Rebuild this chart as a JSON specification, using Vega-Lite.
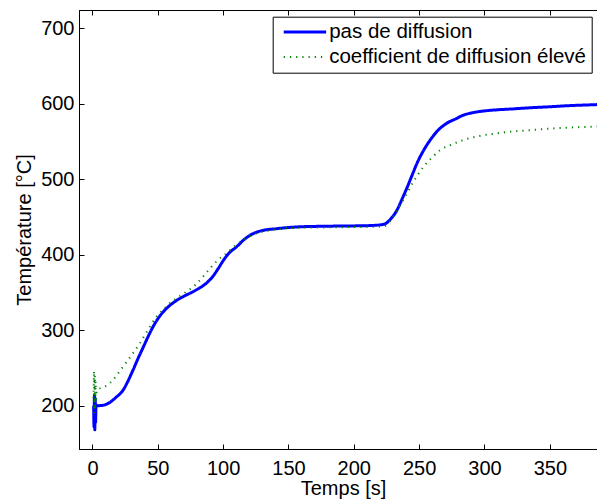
{
  "$schema": "https://vega.github.io/schema/vega-lite/v6.json",
  "autosize": {"type": "none"},
  "padding": {"left": 79, "top": 10, "right": 0, "bottom": 52},
  "width": 518,
  "height": 439,
  "background": "white",
  "config": {
    "font": "Liberation Sans",
    "view": {"stroke": "black", "strokeWidth": 1},
    "axis": {
      "grid": false,
      "domainColor": "black",
      "tickColor": "black",
      "labelColor": "black",
      "titleColor": "black",
      "labelFontSize": 20,
      "titleFontSize": 20,
      "titleFontWeight": "normal",
      "labelFont": "Liberation Sans",
      "titleFont": "Liberation Sans"
    }
  },
  "data": {
    "values": [
      {"t": 0.9, "T": 200, "s": "pas de diffusion"},
      {"t": 1.2, "T": 172, "s": "pas de diffusion"},
      {"t": 1.5, "T": 214, "s": "pas de diffusion"},
      {"t": 1.8, "T": 168, "s": "pas de diffusion"},
      {"t": 2.1, "T": 210, "s": "pas de diffusion"},
      {"t": 2.4, "T": 178, "s": "pas de diffusion"},
      {"t": 2.7, "T": 201, "s": "pas de diffusion"},
      {"t": 4, "T": 200, "s": "pas de diffusion"},
      {"t": 8, "T": 200.5, "s": "pas de diffusion"},
      {"t": 13, "T": 204, "s": "pas de diffusion"},
      {"t": 18, "T": 211, "s": "pas de diffusion"},
      {"t": 23.6, "T": 221, "s": "pas de diffusion"},
      {"t": 27, "T": 232, "s": "pas de diffusion"},
      {"t": 31, "T": 247, "s": "pas de diffusion"},
      {"t": 35, "T": 263, "s": "pas de diffusion"},
      {"t": 39, "T": 278, "s": "pas de diffusion"},
      {"t": 43, "T": 293, "s": "pas de diffusion"},
      {"t": 46.5, "T": 305, "s": "pas de diffusion"},
      {"t": 50, "T": 315, "s": "pas de diffusion"},
      {"t": 54, "T": 324, "s": "pas de diffusion"},
      {"t": 58, "T": 331, "s": "pas de diffusion"},
      {"t": 64, "T": 339, "s": "pas de diffusion"},
      {"t": 70, "T": 345, "s": "pas de diffusion"},
      {"t": 77, "T": 351, "s": "pas de diffusion"},
      {"t": 82, "T": 356, "s": "pas de diffusion"},
      {"t": 87, "T": 362, "s": "pas de diffusion"},
      {"t": 92, "T": 371, "s": "pas de diffusion"},
      {"t": 96, "T": 381, "s": "pas de diffusion"},
      {"t": 100, "T": 392, "s": "pas de diffusion"},
      {"t": 105, "T": 403, "s": "pas de diffusion"},
      {"t": 110, "T": 410, "s": "pas de diffusion"},
      {"t": 116, "T": 420, "s": "pas de diffusion"},
      {"t": 123, "T": 428, "s": "pas de diffusion"},
      {"t": 130, "T": 432, "s": "pas de diffusion"},
      {"t": 141, "T": 434.5, "s": "pas de diffusion"},
      {"t": 150, "T": 436, "s": "pas de diffusion"},
      {"t": 159, "T": 437, "s": "pas de diffusion"},
      {"t": 170, "T": 437.5, "s": "pas de diffusion"},
      {"t": 190, "T": 438, "s": "pas de diffusion"},
      {"t": 210, "T": 438.5, "s": "pas de diffusion"},
      {"t": 220, "T": 439.5, "s": "pas de diffusion"},
      {"t": 224, "T": 441, "s": "pas de diffusion"},
      {"t": 228, "T": 447, "s": "pas de diffusion"},
      {"t": 233, "T": 459, "s": "pas de diffusion"},
      {"t": 237, "T": 474, "s": "pas de diffusion"},
      {"t": 241, "T": 490, "s": "pas de diffusion"},
      {"t": 245, "T": 507, "s": "pas de diffusion"},
      {"t": 248.3, "T": 521, "s": "pas de diffusion"},
      {"t": 253, "T": 537, "s": "pas de diffusion"},
      {"t": 258.5, "T": 552, "s": "pas de diffusion"},
      {"t": 264, "T": 564, "s": "pas de diffusion"},
      {"t": 271, "T": 574, "s": "pas de diffusion"},
      {"t": 278, "T": 580, "s": "pas de diffusion"},
      {"t": 284, "T": 585, "s": "pas de diffusion"},
      {"t": 292, "T": 588.5, "s": "pas de diffusion"},
      {"t": 300, "T": 590.5, "s": "pas de diffusion"},
      {"t": 310, "T": 592, "s": "pas de diffusion"},
      {"t": 320, "T": 593, "s": "pas de diffusion"},
      {"t": 335, "T": 594.7, "s": "pas de diffusion"},
      {"t": 350, "T": 596, "s": "pas de diffusion"},
      {"t": 365, "T": 597.5, "s": "pas de diffusion"},
      {"t": 380, "T": 598.5, "s": "pas de diffusion"},
      {"t": 388, "T": 599, "s": "pas de diffusion"},
      {"t": 0.9, "T": 210, "s": "coefficient de diffusion élevé"},
      {"t": 1.2, "T": 246, "s": "coefficient de diffusion élevé"},
      {"t": 1.5, "T": 190, "s": "coefficient de diffusion élevé"},
      {"t": 1.8, "T": 240, "s": "coefficient de diffusion élevé"},
      {"t": 2.1, "T": 195, "s": "coefficient de diffusion élevé"},
      {"t": 2.4, "T": 232, "s": "coefficient de diffusion élevé"},
      {"t": 2.7, "T": 205, "s": "coefficient de diffusion élevé"},
      {"t": 3.2, "T": 221, "s": "coefficient de diffusion élevé"},
      {"t": 8, "T": 224, "s": "coefficient de diffusion élevé"},
      {"t": 13.4, "T": 230, "s": "coefficient de diffusion élevé"},
      {"t": 18, "T": 239, "s": "coefficient de diffusion élevé"},
      {"t": 23.6, "T": 252, "s": "coefficient de diffusion élevé"},
      {"t": 30, "T": 267, "s": "coefficient de diffusion élevé"},
      {"t": 36.4, "T": 283, "s": "coefficient de diffusion élevé"},
      {"t": 42, "T": 299, "s": "coefficient de diffusion élevé"},
      {"t": 49, "T": 318, "s": "coefficient de diffusion élevé"},
      {"t": 54, "T": 327, "s": "coefficient de diffusion élevé"},
      {"t": 59.3, "T": 336, "s": "coefficient de diffusion élevé"},
      {"t": 65, "T": 343, "s": "coefficient de diffusion élevé"},
      {"t": 72, "T": 351, "s": "coefficient de diffusion élevé"},
      {"t": 80, "T": 362, "s": "coefficient de diffusion élevé"},
      {"t": 90, "T": 382, "s": "coefficient de diffusion élevé"},
      {"t": 96, "T": 393, "s": "coefficient de diffusion élevé"},
      {"t": 102.7, "T": 402, "s": "coefficient de diffusion élevé"},
      {"t": 110, "T": 413, "s": "coefficient de diffusion élevé"},
      {"t": 117, "T": 421, "s": "coefficient de diffusion élevé"},
      {"t": 125, "T": 428, "s": "coefficient de diffusion élevé"},
      {"t": 135, "T": 432, "s": "coefficient de diffusion élevé"},
      {"t": 145, "T": 434.5, "s": "coefficient de diffusion élevé"},
      {"t": 156.5, "T": 435.5, "s": "coefficient de diffusion élevé"},
      {"t": 170, "T": 436, "s": "coefficient de diffusion élevé"},
      {"t": 190, "T": 436.5, "s": "coefficient de diffusion élevé"},
      {"t": 210, "T": 437, "s": "coefficient de diffusion élevé"},
      {"t": 222.9, "T": 437.5, "s": "coefficient de diffusion élevé"},
      {"t": 228, "T": 445, "s": "coefficient de diffusion élevé"},
      {"t": 233, "T": 458, "s": "coefficient de diffusion élevé"},
      {"t": 237, "T": 470, "s": "coefficient de diffusion élevé"},
      {"t": 240.7, "T": 481, "s": "coefficient de diffusion élevé"},
      {"t": 245, "T": 495, "s": "coefficient de diffusion élevé"},
      {"t": 249, "T": 506, "s": "coefficient de diffusion élevé"},
      {"t": 253.4, "T": 516.6, "s": "coefficient de diffusion élevé"},
      {"t": 260, "T": 529, "s": "coefficient de diffusion élevé"},
      {"t": 266.2, "T": 538.7, "s": "coefficient de diffusion élevé"},
      {"t": 275, "T": 546, "s": "coefficient de diffusion élevé"},
      {"t": 284, "T": 552, "s": "coefficient de diffusion élevé"},
      {"t": 295, "T": 557, "s": "coefficient de diffusion élevé"},
      {"t": 309.6, "T": 560.8, "s": "coefficient de diffusion élevé"},
      {"t": 320, "T": 563, "s": "coefficient de diffusion élevé"},
      {"t": 335, "T": 565, "s": "coefficient de diffusion élevé"},
      {"t": 350, "T": 567, "s": "coefficient de diffusion élevé"},
      {"t": 365, "T": 568.5, "s": "coefficient de diffusion élevé"},
      {"t": 380, "T": 569.5, "s": "coefficient de diffusion élevé"},
      {"t": 388, "T": 570, "s": "coefficient de diffusion élevé"}
    ]
  },
  "resolve": {"axis": {"x": "independent"}},
  "layer": [
    {
      "mark": {"type": "line", "clip": true, "interpolate": "monotone"},
      "encoding": {
        "x": {
          "field": "t", "type": "quantitative",
          "scale": {"domain": [-10.3, 386.1], "nice": false, "zero": false},
          "axis": {
            "values": [0, 50, 100, 150, 200, 250, 300, 350],
            "tickSize": -5,
            "labelPadding": 14,
            "title": "Temps [s]",
            "titlePadding": 0,
            "titleX": 264
          }
        },
        "y": {
          "field": "T", "type": "quantitative",
          "scale": {"domain": [142.6, 724.2], "nice": false, "zero": false},
          "axis": {
            "values": [200, 300, 400, 500, 600, 700],
            "tickSize": -5,
            "labelPadding": 10,
            "title": "Température [°C]",
            "titlePadding": 6
          }
        },
        "color": {
          "field": "s", "type": "nominal",
          "scale": {"domain": ["pas de diffusion", "coefficient de diffusion élevé"], "range": ["#0000ff", "#008000"]},
          "legend": {
            "title": null,
            "orient": "none",
            "legendX": 193.7,
            "legendY": 6.7,
            "fillColor": "white",
            "strokeColor": "black",
            "padding": 5,
            "symbolType": "M-3,0H3",
            "symbolSize": 200,
            "symbolOffset": 17,
            "labelOffset": 14,
            "labelFontSize": 20.5,
            "labelFont": "Liberation Sans",
            "labelColor": "black",
            "labelLimit": 0,
            "rowPadding": 4
          }
        },
        "strokeDash": {
          "field": "s", "type": "nominal",
          "scale": {"domain": ["pas de diffusion", "coefficient de diffusion élevé"], "range": [[1, 0], [1.2, 5]]},
          "legend": null
        },
        "strokeWidth": {
          "field": "s", "type": "nominal",
          "scale": {"domain": ["pas de diffusion", "coefficient de diffusion élevé"], "range": [3, 2]},
          "legend": null
        }
      }
    },
    {
      "mark": {"type": "point", "opacity": 0},
      "encoding": {
        "x": {
          "field": "t", "type": "quantitative",
          "axis": {
            "orient": "top",
            "values": [0, 50, 100, 150, 200, 250, 300, 350],
            "tickSize": -5,
            "labels": false,
            "title": null
          }
        },
        "y": {"field": "T", "type": "quantitative"}
      }
    }
  ]
}
